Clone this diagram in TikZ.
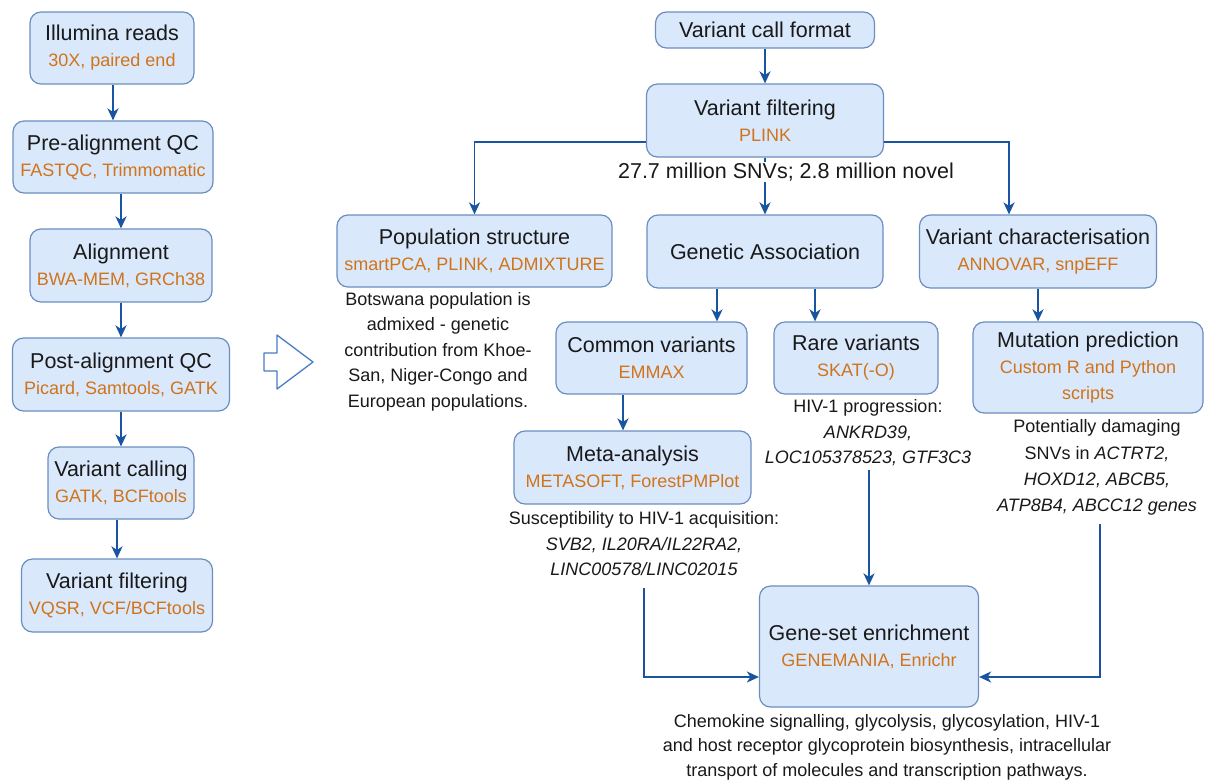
\documentclass[tikz,border=0pt]{standalone}
\usepackage{fontspec}
\setmainfont{Liberation Sans}
\usetikzlibrary{arrows.meta}
\definecolor{boxfill}{RGB}{218,232,252}
\definecolor{boxline}{RGB}{108,142,191}
\definecolor{tool}{RGB}{208,116,26}
\definecolor{arr}{RGB}{24,84,160}
\definecolor{hollow}{RGB}{70,125,195}
\definecolor{txt}{RGB}{25,25,25}
\newcommand{\tl}[1]{{\fontsize{18}{26}\selectfont\color{tool}#1}}
\begin{document}
\begin{tikzpicture}[x=1pt,y=-1pt,
  box/.style={draw=boxline, fill=boxfill, line width=1.2pt, rounded corners=11pt, align=center, inner sep=0pt, font=\fontsize{21.5}{26}\selectfont, text=txt},
  desc/.style={align=center, inner sep=0pt, font=\fontsize{18}{25.5}\selectfont, text=txt},
  conn/.style={draw=arr, line width=1.9pt, -{Stealth[length=12pt,width=11pt,inset=3.5pt]}},
]
\useasboundingbox (0,0) rectangle (1206,782);

% left column
\node[box, minimum width=164pt, minimum height=72pt] (ill) at (112,48) {Illumina reads\\\tl{30X, paired end}};
\node[box, minimum width=200pt, minimum height=72pt] (pre) at (113,157) {Pre-alignment QC\\\tl{FASTQC, Trimmomatic}};
\node[box, minimum width=182pt, minimum height=73pt] (aln) at (121,265.5) {Alignment\\\tl{BWA-MEM, GRCh38}};
\node[box, minimum width=217pt, minimum height=73pt] (post) at (121,374.5) {Post-alignment QC\\\tl{Picard, Samtools, GATK}};
\node[box, minimum width=146pt, minimum height=72pt] (call) at (121,483) {Variant calling\\\tl{GATK, BCFtools}};
\node[box, minimum width=191pt, minimum height=73pt] (filt) at (117,595.5) {Variant filtering\\\tl{VQSR, VCF/BCFtools}};

\draw[conn] (ill.south -| pre.north) -- (pre.north);
\draw[conn] (pre.south -| aln.north) -- (aln.north);
\draw[conn] (aln.south -| post.north) -- (post.north);
\draw[conn] (post.south -| call.north) -- (call.north);
\draw[conn] (call.south -| filt.north) -- (filt.north);

% hollow arrow
\draw[draw=hollow, line width=1.3pt, fill=white, line join=round]
  (264,353) -- (277,353) -- (277,335) -- (313,362) -- (277,389) -- (277,371) -- (264,371) -- cycle;

% right part
\node[box, minimum width=219pt, minimum height=36pt] (vcf) at (765,30) {Variant call format};
\node[box, minimum width=237pt, minimum height=73pt] (plink) at (765,120.5) {Variant filtering\\\tl{PLINK}};
\node[box, minimum width=275pt, minimum height=72pt] (pop) at (474.5,251) {Population structure\\\tl{smartPCA, PLINK, ADMIXTURE}};
\node[box, minimum width=236pt, minimum height=73pt] (ga) at (765,251.5) {Genetic Association};
\node[box, minimum width=237pt, minimum height=73pt] (vchar) at (1038,251.5) {Variant characterisation\\\tl{ANNOVAR, snpEFF}};
\node[box, minimum width=191pt, minimum height=72pt] (cmn) at (651.5,358) {Common variants\\\tl{EMMAX}};
\node[box, minimum width=164pt, minimum height=72pt] (rare) at (856,358) {Rare variants\\\tl{SKAT(-O)}};
\node[box, minimum width=237pt, minimum height=73pt] (meta) at (632.5,467.5) {Meta-analysis\\\tl{METASOFT, ForestPMPlot}};
\node[box, minimum width=230pt, minimum height=91pt] (mut) at (1088,367.5) {Mutation prediction\\\tl{Custom R and Python}\\\tl{scripts}};
\node[box, minimum width=219pt, minimum height=121pt] (gene) at (869,646.5) {Gene-set enrichment\\\tl{GENEMANIA, Enrichr}};

% descriptions
\node[desc] (popdesc) at (438,351.5) {Botswana population is\\admixed - genetic\\contribution from Khoe-\\San, Niger-Congo and\\European populations.};
\node[desc] (metadesc) at (644,544) {Susceptibility to HIV-1 acquisition:\\\textit{SVB2, IL20RA/IL22RA2,}\\\textit{LINC00578/LINC02015}};
\node[desc] (raredesc) at (868,433) {HIV-1 progression:\\\textit{ANKRD39,}\\\textit{LOC105378523, GTF3C3}};
\node[desc, font=\fontsize{18}{26.3}\selectfont] (mutdesc) at (1097,467.5) {Potentially damaging\\SNVs in \textit{ACTRT2,}\\\textit{HOXD12, ABCB5,}\\\textit{ATP8B4, ABCC12 genes}};
\node[desc, font=\fontsize{18}{24.5}\selectfont] (genedesc) at (887,747) {Chemokine signalling, glycolysis, glycosylation, HIV-1\\and host receptor glycoprotein biosynthesis, intracellular\\transport of molecules and transcription pathways.};

% connectors
\draw[conn] (vcf) -- (plink);
\coordinate (pl) at ([yshift=-21.5pt]plink.west);
\coordinate (pr) at ([yshift=-21.5pt]plink.east);
\coordinate (vct) at ([xshift=-29pt]vchar.north);
\draw[conn] (pl) -| (pop.north);
\draw[conn] (pr) -| (vct);
\draw[conn] (plink) -- (ga);
\node[fill=white, inner sep=1pt, font=\fontsize{21.5}{26}\selectfont, text=txt] (snv) at (786,172) {27.7 million SNVs; 2.8 million novel};

\coordinate (cmnt) at ([xshift=65.5pt]cmn.north);
\coordinate (raret) at ([xshift=-41pt]rare.north);
\coordinate (metat) at ([xshift=-9.5pt]meta.north);
\draw[conn] (ga.south -| cmnt) -- (cmnt);
\draw[conn] (ga.south -| raret) -- (raret);
\draw[conn] (cmn.south -| metat) -- (metat);
\draw[conn] (vchar.south) -- (vchar.south |- mut.north);
\draw[conn] ([yshift=-4pt]raredesc.south -| gene.north) -- (gene.north);
\draw[conn] ([yshift=-12pt]metadesc.south) |- ([yshift=-30.5pt]gene.west);
\draw[conn] ([xshift=3pt,yshift=-8pt]mutdesc.south) |- ([yshift=-30.5pt]gene.east);
\end{tikzpicture}
\end{document}
